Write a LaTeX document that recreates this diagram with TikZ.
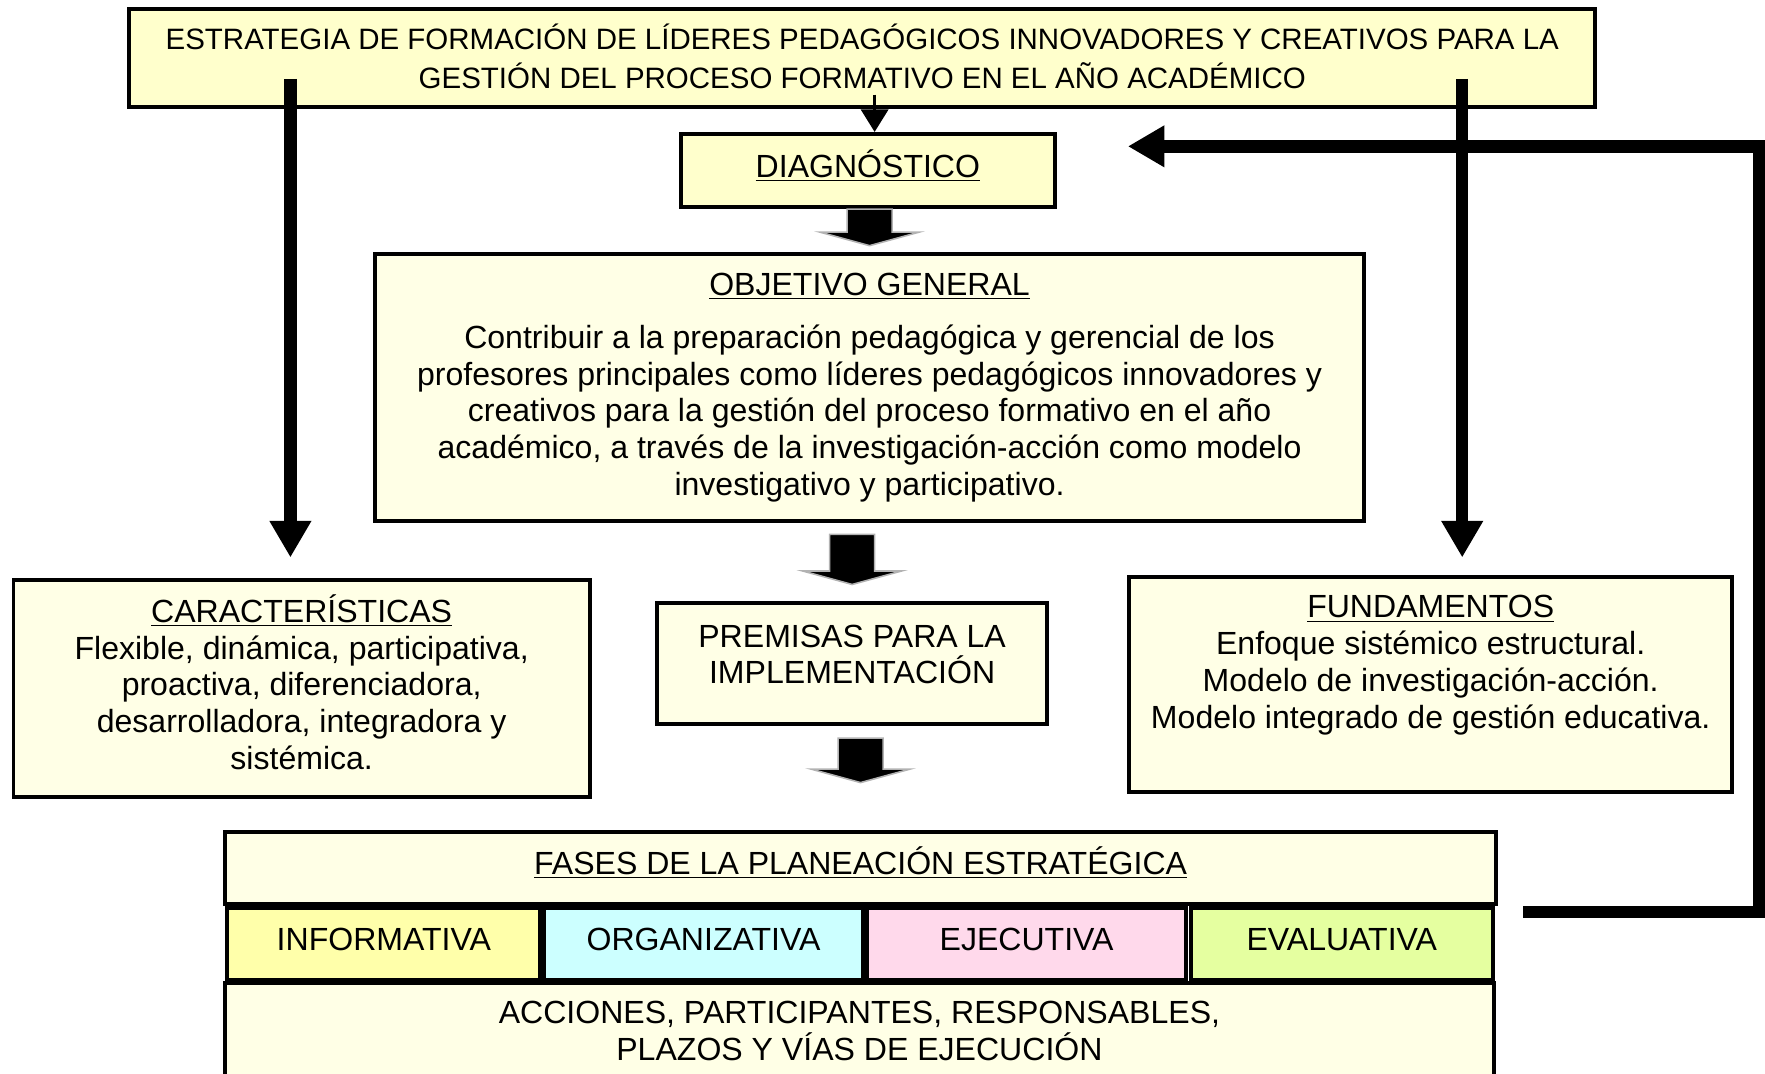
\documentclass[tikz,border=0pt]{standalone}
\usepackage{fontspec}
\setmainfont{Liberation Sans}
\usetikzlibrary{calc,arrows.meta}
\definecolor{topfill}{HTML}{FFFFCC}
\definecolor{boxfill}{HTML}{FFFFE6}
\definecolor{infofill}{HTML}{FFFFAA}
\definecolor{orgfill}{HTML}{CCFFFF}
\definecolor{ejefill}{HTML}{FFD9EB}
\definecolor{evafill}{HTML}{E5FFA0}

% big black block arrow: #1 start (top), #2 tip
\newcommand{\blockarrow}[2]{%
  \filldraw[blockfill] let \p1=#1, \p2=#2 in
  (\x2-4mm,\y1) -- (\x2+4mm,\y1) -- (\x2+4mm,\y2+2.4mm) -- (\x2+8.8mm,\y2+2.4mm)
  -- (\x2,\y2) -- (\x2-8.8mm,\y2+2.4mm) -- (\x2-4mm,\y2+2.4mm) -- cycle;}

\begin{document}
\begin{tikzpicture}[x=0.2mm,y=-0.2mm,
  every node/.style={font=\fontsize{16.2}{18.6}\selectfont, align=center, inner sep=0pt},
  box/.style={draw, line width=2pt, fill=boxfill},
  oneline/.style={text height=4.5mm, text depth=2.2mm},
  blockfill/.style={fill=black, draw=gray!60, line width=0.8pt},
  fatarrow/.style={line width=2.2mm, line join=miter, -{Triangle[width=7mm,length=6.5mm]}},
  thinarrow/.style={line width=1.7pt, -{Triangle[width=4.8mm,length=4mm]}}]
\useasboundingbox (0,0) rectangle (1568,954);

% titulo
\node[box, fill=topfill, minimum width=260.4mm, minimum height=17.4mm] (estr) at (766,51.5) {};
\node[font=\fontsize{14.9}{19.3}\selectfont] (estrtext) at (766,50)
  {ESTRATEGIA DE FORMACIÓN DE LÍDERES PEDAGÓGICOS INNOVADORES Y CREATIVOS PARA LA\\
   GESTIÓN DEL PROCESO FORMATIVO EN EL AÑO ACADÉMICO};

\node[box, oneline, fill=topfill, minimum width=66.4mm, minimum height=13mm] (diag) at (771,151.5)
  {\underline{DIAGNÓSTICO}};

\node[box, minimum width=175.8mm, minimum height=47.4mm] (obj) at (772.5,344.5)
  {\underline{OBJETIVO GENERAL}\\[8pt]
   Contribuir a la preparación pedagógica y gerencial de los\\
   profesores principales como líderes pedagógicos innovadores y\\
   creativos para la gestión del proceso formativo en el año\\
   académico, a través de la investigación-acción como modelo\\
   investigativo y participativo.};

% columnas
\node[box, minimum width=102.4mm, minimum height=38.6mm] (car) at (268,611.5) {};
\node (cartext) at (268,606)
  {\underline{CARACTERÍSTICAS}\\
   Flexible, dinámica, participativa,\\
   proactiva, diferenciadora,\\
   desarrolladora, integradora y\\
   sistémica.};

\node[box, minimum width=69.2mm, minimum height=21.4mm] (prem) at (757,589.5) {};
\node (premtext) at (757,581.5) {PREMISAS PARA LA\\IMPLEMENTACIÓN};

\node[box, minimum width=107.2mm, minimum height=38.2mm] (fund) at (1271,608.5) {};
\node (fundtext) at (1271,591)
  {\underline{FUNDAMENTOS}\\
   Enfoque sistémico estructural.\\
   Modelo de investigación-acción.\\
   Modelo integrado de gestión educativa.};

% fases
\node[box, oneline, minimum width=225.8mm, minimum height=12.8mm] (fases) at (764.5,771)
  {\underline{FASES DE LA PLANEACIÓN ESTRATÉGICA}};

\foreach \nm/\cx/\w/\col/\txt in {info/341/55.6/infofill/INFORMATIVA,
    org/625/56.8/orgfill/ORGANIZATIVA, eje/912/56.8/ejefill/EJECUTIVA,
    eva/1192/53.6/evafill/EVALUATIVA}
  \node[box, oneline, fill=\col, minimum width=\w mm, minimum height=12.8mm] (\nm) at (\cx,839) {\txt};

\node[box, minimum width=225.4mm, minimum height=17.2mm] (acc) at (763.5,916)
  {ACCIONES, PARTICIPANTES, RESPONSABLES,\\PLAZOS Y VÍAS DE EJECUCIÓN};

% flechas
\coordinate (dsrc) at (777,84);
\coordinate (lsrc) at (258,70);
\coordinate (rsrc) at (1299,70);
\coordinate (fbsrc) at (1353,810);
\coordinate (fbturn) at (1563,130);
\coordinate (fbtip) at (1002,130);

\draw[thinarrow] (dsrc) -- (dsrc |- diag.north);
\draw[fatarrow, shorten >=3.6mm] (lsrc) -- (lsrc |- car.north);
\draw[fatarrow, shorten >=3.2mm] (rsrc) -- (rsrc |- fund.north);
\draw[fatarrow] (fbsrc) -| (fbturn) -- (fbtip);

\blockarrow{(diag.south)}{($(obj.north)+(0,-6)$)}
\blockarrow{($(obj.south)+(0,10)$)}{($(prem.north)+(0,-15)$)}
\blockarrow{($(prem.south)+(0,11)$)}{($(fases.north)+(0,-42)$)}
\end{tikzpicture}
\end{document}
